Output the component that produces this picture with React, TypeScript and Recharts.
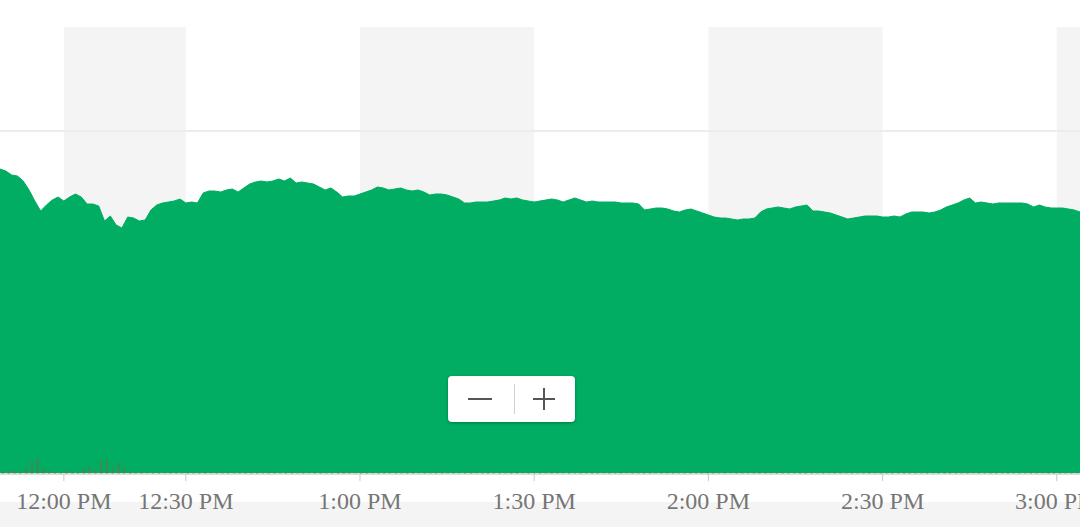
import React from 'react';
import {
  AreaChart,
  Area,
  BarChart,
  Bar,
  XAxis,
  YAxis,
  ReferenceArea,
  ReferenceLine,
} from 'recharts';

const pad = (n: number) => String(n).padStart(2, '0');

// session minutes shown on the axis (a few lunch minutes had no trades)
const preNoonTimes = ['11:49', '11:50', '11:51', '11:52', '11:53', '11:54', '11:55', '11:56', '11:57', '11:58', '11:59'];
const lunchTimes = [
  '12:00', '12:01', '12:02', '12:04', '12:05', '12:07', '12:08', '12:10', '12:11', '12:13', '12:14',
  '12:16', '12:17', '12:19', '12:20', '12:22', '12:23', '12:25', '12:26', '12:28', '12:29',
];
const afternoonTimes: string[] = [];
for (let m = 12 * 60 + 30; m <= 15 * 60 + 4; m++) {
  afternoonTimes.push(`${Math.floor(m / 60)}:${pad(m % 60)}`);
}
const times = [...preNoonTimes, ...lunchTimes, ...afternoonTimes];

const prices = [
  43.12, 43.10, 43.06, 43.05, 43.00, 42.91, 42.80, 42.70, 42.76, 42.81, 42.84,
  42.80, 42.84, 42.87, 42.84, 42.77, 42.77, 42.75, 42.60, 42.65, 42.56, 42.53,
  42.64, 42.63, 42.60, 42.61, 42.71, 42.76, 42.78, 42.79, 42.80, 42.82, 42.78,
  42.79, 42.78, 42.88, 42.90, 42.90, 42.89, 42.91, 42.92, 42.89, 42.93, 42.97, 42.99, 43.00, 42.99, 43.00,
  43.02, 43.00, 43.03, 42.98, 42.99, 42.98, 42.97, 42.94, 42.91, 42.93, 42.89, 42.84, 42.85, 42.85, 42.87,
  42.89, 42.91, 42.94, 42.93, 42.91, 42.92, 42.93, 42.91, 42.90, 42.91, 42.89, 42.86, 42.87, 42.87, 42.86,
  42.84, 42.82, 42.78, 42.78, 42.79, 42.79, 42.79, 42.80, 42.81, 42.83, 42.82, 42.83, 42.81, 42.80, 42.79,
  42.80, 42.81, 42.82, 42.81, 42.79, 42.81, 42.83, 42.81, 42.79, 42.80, 42.79, 42.79, 42.79, 42.79, 42.78,
  42.78, 42.78, 42.77, 42.71, 42.72, 42.73, 42.73, 42.72, 42.70, 42.69, 42.71, 42.72, 42.70, 42.68, 42.66,
  42.64, 42.63, 42.63, 42.62, 42.61, 42.62, 42.62, 42.63, 42.69, 42.72, 42.73, 42.74, 42.73, 42.72, 42.74,
  42.75, 42.76, 42.70, 42.70, 42.69, 42.68, 42.66, 42.64, 42.62, 42.63, 42.64, 42.65, 42.65, 42.65, 42.64,
  42.64, 42.65, 42.64, 42.67, 42.69, 42.69, 42.69, 42.68, 42.69, 42.71, 42.74, 42.76, 42.78, 42.81, 42.83,
  42.78, 42.79, 42.78, 42.77, 42.78, 42.78, 42.78, 42.78, 42.78, 42.77, 42.74, 42.76, 42.74, 42.73, 42.73,
  42.73, 42.72, 42.71, 42.69,
];

const volumes = [
  40, 70, 110, 60, 180, 340, 420, 160, 90, 50, 30,
  120, 40, 30, 150, 240, 110, 360, 400, 190, 310, 170,
  50, 30, 70, 20, 40, 30, 20, 50, 30, 20, 60,
  40, 30, 50, 20, 60, 30, 40, 20, 30, 50, 40, 30, 20, 40, 30,
  20, 30, 50, 20, 30, 20, 40, 30, 20, 30, 40, 60, 30, 20, 40,
  30, 20, 30, 40, 20, 30, 20, 30, 50, 20, 30, 20, 40, 30, 20,
  30, 20, 40, 30, 20, 30, 40, 20, 30, 20, 30, 40, 20, 30, 20,
  30, 20, 40, 30, 20, 30, 20, 30, 20, 40, 30, 20, 30, 20, 30,
  20, 30, 40, 60, 30, 20, 30, 40, 30, 20, 30, 40, 20, 30, 40,
  30, 20, 30, 20, 40, 30, 20, 50, 40, 30, 20, 30, 40, 30, 20,
  30, 40, 30, 20, 30, 20, 40, 30, 20, 30, 20, 30, 40, 20, 30,
  20, 30, 20, 30, 40, 30, 20, 30, 20, 30, 40, 50, 30, 40, 30,
  20, 30, 20, 30, 40, 20, 30, 20, 30, 20, 40, 30, 20, 30, 40,
  30, 20, 30, 20,
];

const tickTimes = ['12:00', '12:30', '13:00', '13:30', '14:00', '14:30', '15:00'];
const shadedBands = [
  ['12:00', '12:30'],
  ['13:00', '13:30'],
  ['14:00', '14:30'],
  ['15:00', '15:04'],
];
const gridPrice = 43.5;

const data = times.map((t, i) => ({ t, price: prices[i], volume: volumes[i] }));

const formatTime = (t: string) => {
  const [h, m] = t.split(':').map(Number);
  const h12 = h > 12 ? h - 12 : h;
  return `${h12}:${pad(m)} ${h >= 12 ? 'PM' : 'AM'}`;
};

const W = 1080;
const H = 527;

export default function App() {
  return (
    <div style={{ position: 'absolute', left: 0, top: 0, width: W, height: H, background: '#fff', overflow: 'hidden' }}>
      <div style={{ position: 'absolute', left: 0, top: 502, width: W, height: H - 502, background: '#f4f4f4' }} />
      <div style={{ position: 'absolute', left: 0, top: 0 }}>
        <AreaChart width={W} height={H} data={data} margin={{ top: 27, right: 0, left: 0, bottom: 23 }}>
          <XAxis
            dataKey="t"
            ticks={tickTimes}
            interval={0}
            tickFormatter={formatTime}
            height={30}
            axisLine={{ stroke: '#dcdcdc', strokeWidth: 2 }}
            tickLine={{ stroke: '#c8c8c8' }}
            tickSize={7}
            tickMargin={11}
            tick={{ fill: '#767676', fontSize: 24, fontFamily: '"Liberation Serif", serif' }}
          />
          <YAxis hide domain={[40.07, 44.54]} />
          {shadedBands.map(([a, b]) => (
            <ReferenceArea key={a} x1={a} x2={b} fill="#f4f4f4" fillOpacity={1} stroke="none" />
          ))}
          <ReferenceLine y={gridPrice} stroke="#ececec" strokeWidth={2} />
          <Area
            type="linear"
            dataKey="price"
            stroke="#00ad62"
            strokeWidth={1}
            fill="#00ad62"
            fillOpacity={1}
            isAnimationActive={false}
            dot={false}
            activeDot={false}
          />
        </AreaChart>
      </div>
      <div style={{ position: 'absolute', left: 0, top: 0, pointerEvents: 'none' }}>
        <BarChart width={W} height={H} data={data} margin={{ top: 27, right: 0, left: 0, bottom: 53 }}>
          <XAxis dataKey="t" hide />
          <YAxis hide domain={[0, 12000]} />
          <Bar dataKey="volume" fill="#b5483a" fillOpacity={0.35} barSize={2} isAnimationActive={false} />
        </BarChart>
      </div>
      <div
        style={{
          position: 'absolute',
          left: 448,
          top: 376,
          width: 127,
          height: 46,
          background: '#fff',
          borderRadius: 4,
          boxShadow: '0 1px 3px rgba(0,0,0,0.3)',
        }}
      >
        <div style={{ position: 'absolute', left: 20, top: 22, width: 24, height: 2, background: '#555' }} />
        <div style={{ position: 'absolute', left: 66, top: 8, width: 1, height: 30, background: '#cfcfcf' }} />
        <div style={{ position: 'absolute', left: 85, top: 22, width: 22, height: 2, background: '#555' }} />
        <div style={{ position: 'absolute', left: 95, top: 12, width: 2, height: 22, background: '#555' }} />
      </div>
    </div>
  );
}
